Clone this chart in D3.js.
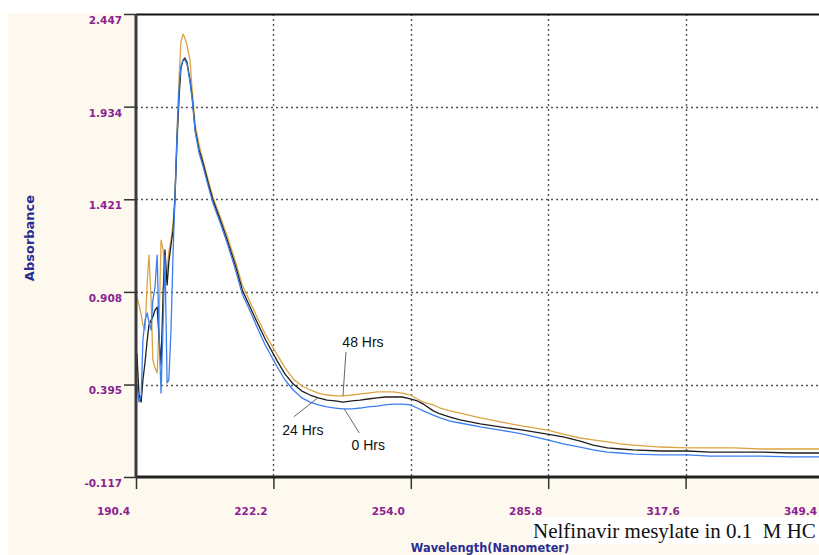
<!DOCTYPE html>
<html>
<head>
<meta charset="utf-8">
<script src="https://cdn.jsdelivr.net/npm/d3@7"></script>
<style>
  html, body { margin: 0; padding: 0; background: #ffffff; }
  svg { display: block; }
</style>
</head>
<body>
<svg id="chart" width="819" height="555"></svg>
<script>
// Wavelength grid (nm) shared by all three spectra
const wavelength = [190.6,191.1,191.6,192.0,192.5,193.0,193.4,193.9,194.3,194.8,195.3,195.7,196.2,196.7,197.1,197.6,198.0,198.5,199.0,199.4,199.9,200.4,
  200.8,201.3,201.7,202.2,202.9,203.4,204.1,205.0,205.9,207.1,208.2,209.9,211.5,213.3,215.0,216.8,218.4,220.3,
  223.1,224.9,226.8,228.8,230.7,232.6,234.6,236.5,238.3,240.4,242.3,244.1,246.2,248.1,249.9,252.0,253.9,255.5,256.9,259.2,260.8,263.1,265.4,
  270.1,274.7,280.0,285.6,289.3,293.2,296.2,299.5,302.5,305.5,311.8,318.0,323.3,328.7,334.9,341.9,348.6,352.0];

// Absorbance after 48 hours
const abs48 = [0.880,0.836,0.780,0.725,0.697,0.963,1.112,0.863,0.531,0.487,0.459,0.697,1.195,1.140,0.935,1.029,1.129,1.195,1.295,1.434,1.805,2.109,
  2.292,2.336,2.314,2.275,2.192,2.026,1.832,1.722,1.638,1.528,1.434,1.323,1.218,1.085,0.946,0.852,0.769,0.675,
  0.559,0.487,0.426,0.387,0.365,0.348,0.337,0.332,0.332,0.337,0.343,0.348,0.354,0.354,0.354,0.348,0.337,0.315,0.298,0.282,0.265,0.249,0.237,
  0.210,0.188,0.165,0.143,0.121,0.099,0.088,0.077,0.066,0.060,0.049,0.044,0.044,0.044,0.038,0.038,0.038,0.038];

// Absorbance after 24 hours
const abs24 = [0.570,0.337,0.298,0.420,0.520,0.642,0.725,0.752,0.769,0.808,0.824,0.669,0.503,0.919,1.140,0.946,1.074,1.168,1.251,1.417,1.749,1.998,
  2.148,2.192,2.203,2.181,2.082,1.987,1.805,1.694,1.622,1.511,1.417,1.306,1.195,1.063,0.919,0.824,0.741,0.647,
  0.525,0.453,0.398,0.359,0.337,0.321,0.309,0.304,0.298,0.304,0.309,0.315,0.321,0.326,0.326,0.326,0.315,0.304,0.287,0.249,0.232,0.215,0.199,
  0.177,0.160,0.143,0.121,0.105,0.082,0.060,0.044,0.038,0.033,0.027,0.027,0.021,0.021,0.021,0.016,0.016,0.016];

// Absorbance at 0 hours
const abs0 = [0.392,0.298,0.337,0.642,0.752,0.791,0.741,0.697,0.863,0.935,1.112,0.697,0.348,0.752,1.112,0.404,0.420,0.697,1.140,1.417,1.777,2.054,
  2.159,2.192,2.192,2.170,2.070,1.976,1.794,1.677,1.605,1.495,1.400,1.290,1.179,1.040,0.896,0.802,0.714,0.614,
  0.492,0.420,0.365,0.321,0.298,0.282,0.271,0.265,0.260,0.260,0.265,0.271,0.276,0.282,0.287,0.287,0.282,0.265,0.249,0.226,0.210,0.193,0.182,
  0.160,0.143,0.121,0.088,0.066,0.049,0.033,0.021,0.016,0.010,0.005,0.005,-0.001,-0.001,-0.001,-0.006,-0.006,-0.006];

const seriesNames = ["48 Hrs", "24 Hrs", "0 Hrs"];
const xTickLabels = ["190.4", "222.2", "254.0", "285.8", "317.6", "349.4"];
const yTickLabels = ["-0.117", "0.395", "0.908", "1.421", "1.934", "2.447"];

const xTicks = xTickLabels.map(Number);
const yTicks = yTickLabels.map(Number);

const svg = d3.select("#chart");
const W = 819, H = 555;
const plot = { left: 136, top: 14, bottom: 477 };

const x = d3.scaleLinear().domain([xTicks[0], xTicks[xTicks.length - 1]]).range([plot.left, 823]);
const y = d3.scaleLinear().domain([yTicks[0], yTicks[yTicks.length - 1]]).range([plot.bottom, plot.top]);

// Cream panel and white plotting area
svg.append("rect").attr("x", 8).attr("y", 13).attr("width", W - 8).attr("height", H - 13).attr("fill", "#fdf9ef");
svg.append("rect").attr("x", plot.left).attr("y", plot.top).attr("width", W - plot.left).attr("height", plot.bottom - plot.top).attr("fill", "#ffffff");

svg.append("clipPath").attr("id", "plotClip").append("rect")
  .attr("x", plot.left).attr("y", plot.top).attr("width", W - plot.left).attr("height", plot.bottom - plot.top);

// Dotted grid
const grid = svg.append("g").attr("stroke", "#555").attr("stroke-width", 1.4).attr("stroke-dasharray", "2,3");
grid.selectAll("line.h").data(yTicks.slice(1, -1)).join("line")
  .attr("x1", plot.left).attr("x2", W).attr("y1", d => Math.round(y(d)) + 0.5).attr("y2", d => Math.round(y(d)) + 0.5);
grid.selectAll("line.v").data(xTicks.slice(1)).join("line")
  .attr("y1", plot.top).attr("y2", plot.bottom).attr("x1", d => Math.round(x(d)) + 0.5).attr("x2", d => Math.round(x(d)) + 0.5);

// Spectra
const series = [
  { name: seriesNames[0], values: abs48, color: "#dba443" },
  { name: seriesNames[1], values: abs24, color: "#1e1e1e" },
  { name: seriesNames[2], values: abs0, color: "#3a7ff0" }
];
const line = d3.line().x((d, i) => x(wavelength[i])).y(d => y(d));
const lines = svg.append("g").attr("clip-path", "url(#plotClip)");
lines.selectAll("path").data(series).join("path")
  .attr("d", s => line(s.values))
  .attr("fill", "none")
  .attr("stroke", s => s.color)
  .attr("stroke-width", 1.3)
  .attr("stroke-linejoin", "round");

// Axes
const tickColor = "#8b2390";
const yAxis = d3.axisLeft(y).tickValues(yTicks).tickSize(12).tickPadding(2)
  .tickFormat((d, i) => yTickLabels[i]);
const gy = svg.append("g").attr("transform", `translate(${plot.left},0)`).call(yAxis);
gy.select(".domain").remove();
gy.selectAll(".tick line").attr("stroke", "#333").attr("stroke-width", 1.5);
gy.selectAll(".tick text").attr("y", 6)
  .attr("fill", tickColor).attr("font-family", "DejaVu Sans, Verdana, sans-serif")
  .attr("font-weight", "bold").attr("font-size", 10.5);

const xAxis = d3.axisBottom(x).tickValues(xTicks).tickSize(12)
  .tickFormat((d, i) => xTickLabels[i]);
const gx = svg.append("g").attr("transform", `translate(0,${plot.bottom})`).call(xAxis);
gx.select(".domain").remove();
gx.selectAll(".tick line").attr("stroke", "#333").attr("stroke-width", 1.5);
gx.selectAll(".tick text").attr("x", -23).attr("y", 31)
  .attr("fill", tickColor).attr("font-family", "DejaVu Sans, Verdana, sans-serif")
  .attr("font-weight", "bold").attr("font-size", 10.5);

// Frame lines
svg.append("line").attr("x1", plot.left).attr("x2", W).attr("y1", plot.top + 0.5).attr("y2", plot.top + 0.5)
  .attr("stroke", "#111").attr("stroke-width", 2);
svg.append("line").attr("x1", plot.left).attr("x2", W).attr("y1", plot.bottom).attr("y2", plot.bottom)
  .attr("stroke", "#222").attr("stroke-width", 3);
svg.append("line").attr("x1", plot.left).attr("x2", plot.left).attr("y1", plot.top).attr("y2", plot.bottom + 1)
  .attr("stroke", "#3a3a3a").attr("stroke-width", 3);

// Axis titles
const titleColor = "#2b2d92";
svg.append("text").attr("x", 490).attr("y", 552).attr("text-anchor", "middle")
  .attr("font-family", "DejaVu Sans, Verdana, sans-serif").attr("font-weight", "bold").attr("font-size", 11.4)
  .attr("fill", titleColor).text("Wavelength(Nanometer)");
svg.append("text").attr("transform", "translate(34,238) rotate(-90)").attr("text-anchor", "middle")
  .attr("font-family", "DejaVu Sans, Verdana, sans-serif").attr("font-weight", "bold").attr("font-size", 13)
  .attr("fill", titleColor).text("Absorbance");

// Series annotations with leader lines
const valueAt = (vals, wl) => {
  const i = d3.bisectLeft(wavelength, wl);
  const i0 = Math.max(0, i - 1), i1 = Math.min(wavelength.length - 1, i);
  const t = wavelength[i1] === wavelength[i0] ? 0 : (wl - wavelength[i0]) / (wavelength[i1] - wavelength[i0]);
  return vals[i0] + t * (vals[i1] - vals[i0]);
};
const notes = [
  { s: series[0], wl: 238.3, lx: 3, ly: -44, tx: 20, ty: -49 },
  { s: series[1], wl: 232.5, lx: -24, ly: 19, tx: -15, ty: 37 },
  { s: series[2], wl: 238.6, lx: 15, ly: 24, tx: 24, ty: 41 }
];
const ann = svg.append("g");
notes.forEach(n => {
  const px = x(n.wl), py = y(valueAt(n.s.values, n.wl));
  ann.append("line").attr("x1", px).attr("y1", py).attr("x2", px + n.lx).attr("y2", py + n.ly)
    .attr("stroke", "#666").attr("stroke-width", 1);
  ann.append("text").attr("x", px + n.tx).attr("y", py + n.ty).attr("text-anchor", "middle")
    .attr("font-family", "Liberation Sans, Arial, sans-serif").attr("font-size", 14).attr("fill", "#111")
    .text(n.s.name);
});

// Caption
svg.append("rect").attr("x", 532).attr("y", 517).attr("width", W - 532).attr("height", 27).attr("fill", "#ffffff");
svg.append("text").attr("x", 533).attr("y", 538)
  .attr("font-family", "Liberation Serif, Times New Roman, serif").attr("font-size", 21).attr("fill", "#111")
  .attr("xml:space", "preserve").style("white-space", "pre")
  .text("Nelfinavir mesylate in 0.1  M HC");
</script>
</body>
</html>
